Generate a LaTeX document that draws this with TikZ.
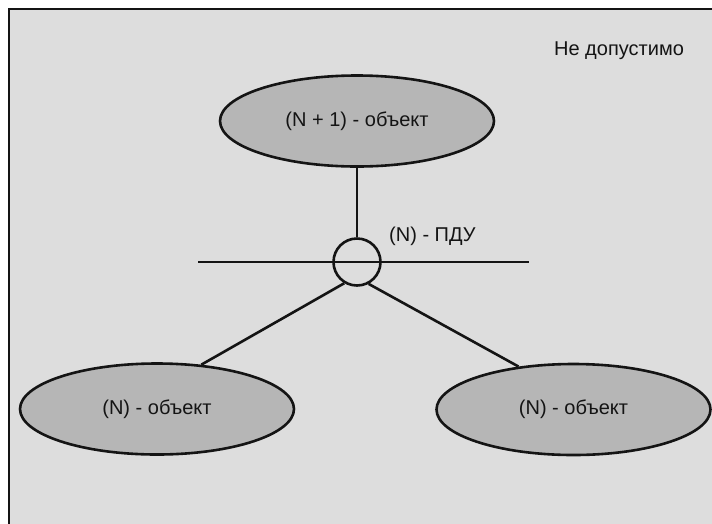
\documentclass[tikz,border=0pt]{standalone}
\usepackage{fontspec}
\setmainfont{Liberation Sans}
\usetikzlibrary{shapes.geometric}
\definecolor{bggray}{RGB}{221,221,221}
\definecolor{objgray}{RGB}{182,182,182}
\definecolor{ink}{RGB}{20,20,20}
\tikzset{
  obj/.style={ellipse, draw=ink, fill=objgray, line width=2.6pt, minimum width=274pt, minimum height=91pt, inner sep=0pt, font=\fontsize{20}{22}\selectfont, text=ink},
  conn/.style={draw=ink, line width=2.6pt},
  lbl/.style={font=\fontsize{20}{22}\selectfont, text=ink, inner sep=0pt}
}
\begin{document}
\begin{tikzpicture}[x=1pt,y=-1pt]
\useasboundingbox (0,0) rectangle (712,523);
\clip (0,0) rectangle (712,523);
\fill[white] (0,0) rectangle (712,523);
\draw[fill=bggray, draw=ink, line width=2pt] (9,9) rectangle (730,540);
\node[obj] (top) at (357,121) {(N + 1) - объект};
\node[obj] (left) at (157,409) {(N) - объект};
\node[obj] (right) at (573.5,409.5) {(N) - объект};
\node[circle, draw=ink, line width=2.6pt, minimum size=47pt, inner sep=0pt] (pdu) at (357,262) {};
\coordinate (hl) at (198,262);
\coordinate (hr) at (529,262);
\draw[conn] (hl) -- (hr);
\draw[conn] (top.south) -- (pdu.north);
\draw[conn] (pdu.-121) -- (left.45);
\draw[conn] (pdu.-62) -- (right.142);
\node[lbl, anchor=west] (pdulbl) at (389,236) {(N) - ПДУ};
\node[lbl] (note) at (619,51) {Не допустимо};
\end{tikzpicture}
\end{document}
